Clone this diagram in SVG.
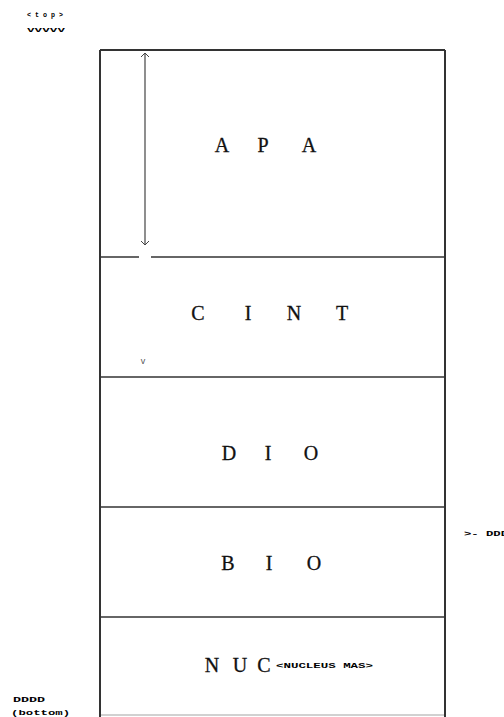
<svg xmlns="http://www.w3.org/2000/svg" width="504" height="717" viewBox="0 0 504 717">
<style>
.box{fill:none;stroke:#333;stroke-width:2}
.div{stroke:#333;stroke-width:1.5}
.big{font-family:"Liberation Serif",serif;font-size:20px;fill:#111;stroke:#111;stroke-width:0.3;text-anchor:middle}
.small{font-family:"Liberation Mono",monospace;font-size:8px;font-weight:bold;fill:#000}
.conn{stroke:#444;stroke-width:1.2;fill:none}
</style>
<defs>
<marker id="ah" markerWidth="8" markerHeight="8" refX="4" refY="4" orient="auto-start-reverse" markerUnits="userSpaceOnUse">
<path d="M0,0 L4,4 L0,8" fill="none" stroke="#444" stroke-width="1"/>
</marker>
</defs>
<rect width="504" height="717" fill="#fff"/>
<text class="small" x="27" y="17" textLength="36" lengthAdjust="spacingAndGlyphs">&lt; t o p &gt;</text>
<text class="small" x="27" y="32" textLength="38" lengthAdjust="spacingAndGlyphs">vvvvv</text>
<text class="small" x="13" y="702" textLength="32" lengthAdjust="spacingAndGlyphs">DDDD</text>
<text class="small" x="11" y="715" textLength="59" lengthAdjust="spacingAndGlyphs">(bottom)</text>
<text class="small" x="464" y="536" textLength="44" lengthAdjust="spacingAndGlyphs">&gt;- DDD</text>
<g id="frame">
<line class="box" x1="100" y1="50" x2="445" y2="50"/>
<line class="box" x1="100" y1="50" x2="100" y2="717"/>
<line class="box" x1="445" y1="50" x2="445" y2="717"/>
<line class="div" x1="100" y1="715" x2="445" y2="715" stroke-opacity="0.3"/>
</g>
<g id="APA">
<text class="big" x="222" y="152">A</text>
<text class="big" x="263" y="152">P</text>
<text class="big" x="309" y="152">A</text>
</g>
<g id="CINT">
<line class="div" x1="100" y1="257" x2="139" y2="257"/>
<line class="div" x1="151" y1="257" x2="445" y2="257"/>
<text class="big" x="198" y="320">C</text>
<text class="big" x="248" y="320">I</text>
<text class="big" x="294" y="320">N</text>
<text class="big" x="342" y="320">T</text>
</g>
<g id="DIO">
<line class="div" x1="100" y1="377" x2="445" y2="377"/>
<text class="big" x="229" y="460">D</text>
<text class="big" x="268" y="460">I</text>
<text class="big" x="311" y="460">O</text>
</g>
<g id="BIO">
<line class="div" x1="100" y1="507" x2="445" y2="507"/>
<text class="big" x="228" y="570">B</text>
<text class="big" x="269" y="570">I</text>
<text class="big" x="314" y="570">O</text>
</g>
<g id="NUC">
<line class="div" x1="100" y1="617" x2="445" y2="617"/>
<text class="big" x="212" y="672">N</text>
<text class="big" x="240" y="672">U</text>
<text class="big" x="264" y="672">C</text>
<text class="small" x="276" y="668" textLength="97" lengthAdjust="spacingAndGlyphs">&lt;NUCLEUS MAS&gt;</text>
</g>
<g id="connectors">
<line class="conn" x1="145" y1="53" x2="145" y2="245" marker-start="url(#ah)" marker-end="url(#ah)"/>
<text x="143" y="364" style="font-family:'Liberation Sans',sans-serif;font-size:9px;fill:#555" text-anchor="middle">v</text>
</g>
</svg>
